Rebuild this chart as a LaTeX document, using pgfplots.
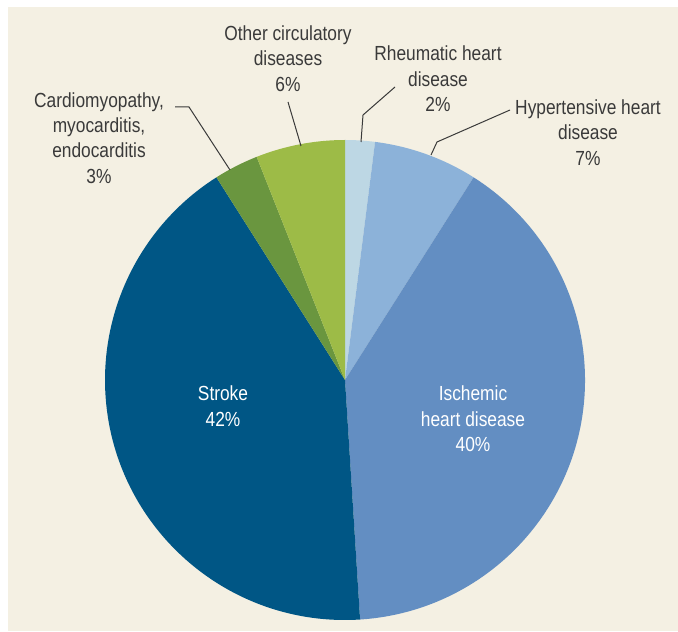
\documentclass[border=0pt]{standalone}
\usepackage{pgfplots}
\usepackage{pgfplotstable}
\pgfplotsset{compat=1.18}
\usepackage{fontspec}
\setmainfont{Liberation Sans}[FakeStretch=0.85]
\definecolor{bg}{HTML}{F4F0E3}
\definecolor{c1}{HTML}{BDD7E4}
\definecolor{c2}{HTML}{8CB2D9}
\definecolor{c3}{HTML}{638EC2}
\definecolor{c4}{HTML}{005685}
\definecolor{c5}{HTML}{6A963F}
\definecolor{c6}{HTML}{9DBB47}
\definecolor{txt}{HTML}{3A3A3A}
\tikzset{lbl/.style={font=\fontsize{10.2}{12.7}\selectfont, align=center, text=txt, inner sep=0pt}}
\pgfplotstableread{
pct color
2 c1
7 c2
40 c3
42 c4
3 c5
6 c6
}\piedata
\begin{document}
\begin{tikzpicture}
\begin{axis}[x=0.5pt,y=0.5pt,xmin=0,xmax=678,ymin=0,ymax=631,hide axis,clip=false]
\path (axis cs:0,0) rectangle (axis cs:678,631);
\fill[bg] (axis cs:8,0) rectangle (axis cs:678,624);
\pgfplotstablegetrowsof{\piedata}
\pgfmathtruncatemacro\N{\pgfplotsretval-1}
\def\cum{0}
\pgfplotsforeachungrouped \i in {0,...,\N}{%
  \pgfplotstablegetelem{\i}{pct}\of\piedata \let\p\pgfplotsretval
  \pgfplotstablegetelem{\i}{color}\of\piedata \let\c\pgfplotsretval
  \pgfmathsetmacro\a{90-3.6*\cum}%
  \pgfmathsetmacro\b{90-3.6*(\cum+\p)}%
  \pgfmathsetmacro\sx{345+240*cos(\a)}%
  \pgfmathsetmacro\sy{251+240*sin(\a)}%
  \edef\temp{\noexpand\fill[\c] (axis cs:345,251) -- (axis cs:\sx,\sy) arc[start angle=\a, end angle=\b, radius=120pt] -- cycle;}%
  \temp
  \pgfmathsetmacro\cum{\cum+\p}%
}
% leader lines
\draw[txt, line width=0.5pt] (axis cs:288,529) -- (axis cs:301,485);
\draw[txt, line width=0.5pt] (axis cs:175,524) -- (axis cs:189,524) -- (axis cs:230,461);
\draw[txt, line width=0.5pt] (axis cs:395,544) -- (axis cs:363,516) -- (axis cs:361,489);
\draw[txt, line width=0.5pt] (axis cs:510,521) -- (axis cs:437,489) -- (axis cs:431,476);
% labels
\node[lbl] at (axis cs:288,572.5) {Other circulatory\\diseases\\6\%};
\node[lbl] at (axis cs:99,493) {Cardiomyopathy,\\myocarditis,\\endocarditis\\3\%};
\node[lbl] at (axis cs:438,552) {Rheumatic heart\\disease\\2\%};
\node[lbl] at (axis cs:588,498.5) {Hypertensive heart\\disease\\7\%};
\node[lbl, text=white] at (axis cs:223,225) {Stroke\\42\%};
\node[lbl, text=white] at (axis cs:473,212) {Ischemic\\heart disease\\40\%};
\end{axis}
\end{tikzpicture}
\end{document}
